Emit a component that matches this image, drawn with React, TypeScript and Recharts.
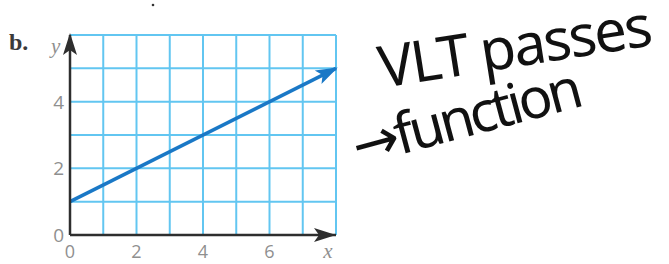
import { LineChart, Line, XAxis, YAxis, CartesianGrid, ReferenceDot } from 'recharts';

// grid / axis ticks
const xTicks = [0, 1, 2, 3, 4, 5, 6, 7, 8];
const yTicks = [0, 1, 2, 3, 4, 5, 6];
const xLabels = [0, 2, 4, 6];
const yLabels = [0, 2, 4];

// the plotted line y = 0.5x + 1
const lineX = [0, 8];
const lineY = [1, 5];

const data = lineX.map((x, i) => ({ x, y: lineY[i] }));

const GRID = '#62c6f1';
const LINE = '#1a78c6';
const AXIS = '#2e2e2e';
const LABEL = '#8f8f8f';

const XTick = ({ x, y, payload }: any) => {
  if (payload.value === 8) {
    return (
      <text x={x - 8} y={y + 23} textAnchor="middle" fontFamily="'Liberation Serif', serif" fontStyle="italic" fontSize={21} fill={LABEL}>
        x
      </text>
    );
  }
  if (!xLabels.includes(payload.value)) return <g />;
  return (
    <text x={x} y={y + 23} textAnchor="middle" fontFamily="'Open Sans', sans-serif" fontSize={18} fill={LABEL}>
      {payload.value}
    </text>
  );
};

const YTick = ({ x, y, payload }: any) => {
  if (!yLabels.includes(payload.value)) return <g />;
  return (
    <text x={x - 6} y={y + 7} textAnchor="end" fontFamily="'Open Sans', sans-serif" fontSize={19} fill={LABEL}>
      {payload.value}
    </text>
  );
};

// arrowhead drawn at the last point of the line
const ArrowDot = (props: any) => {
  const { cx, cy, index, points } = props;
  if (index !== lineX.length - 1) return <g key={`d${index}`} />;
  let ang = -26.6;
  if (points && points[index - 1]) {
    const prev = points[index - 1];
    ang = (Math.atan2(cy - prev.y, cx - prev.x) * 180) / Math.PI;
  }
  return (
    <path
      key={`d${index}`}
      d="M2,0 L-20,-7.5 L-15,0 L-20,7.5 Z"
      transform={`translate(${cx},${cy}) rotate(${ang})`}
      fill={LINE}
    />
  );
};

const XArrow = ({ cx, cy }: any) => (
  <path d={`M${cx},${cy} L${cx - 22},${cy - 7} L${cx - 17},${cy} L${cx - 22},${cy + 7} Z`} fill={AXIS} />
);

const YArrow = ({ cx, cy }: any) => (
  <path d={`M${cx},${cy - 2} L${cx - 7},${cy + 20} L${cx},${cy + 15} L${cx + 7},${cy + 20} Z`} fill={AXIS} />
);

export default function App() {
  return (
    <div style={{ position: 'absolute', left: 0, top: 0, width: 669, height: 264, background: '#fff' }}>
      <LineChart width={669} height={264} data={data} margin={{ top: 35, right: 333, bottom: 0, left: 40 }}>
        <CartesianGrid stroke={GRID} strokeWidth={2} horizontalValues={yTicks} verticalValues={xTicks} />
        <XAxis
          type="number"
          dataKey="x"
          domain={[0, 8]}
          ticks={xTicks}
          interval={0}
          height={29}
          tickSize={0}
          tickMargin={0}
          tickLine={false}
          axisLine={{ stroke: AXIS, strokeWidth: 2.5 }}
          tick={<XTick />}
        />
        <YAxis
          type="number"
          domain={[0, 6]}
          ticks={yTicks}
          interval={0}
          width={30}
          tickSize={0}
          tickMargin={0}
          tickLine={false}
          axisLine={{ stroke: AXIS, strokeWidth: 2.5 }}
          tick={<YTick />}
        />
        <ReferenceDot x={8} y={0} r={0} shape={<XArrow />} />
        <ReferenceDot x={0} y={6} r={0} shape={<YArrow />} />
        <Line
          type="linear"
          dataKey="y"
          stroke={LINE}
          strokeWidth={3.5}
          dot={<ArrowDot />}
          activeDot={false}
          isAnimationActive={false}
        />
      </LineChart>
      <svg width={669} height={264} style={{ position: 'absolute', left: 0, top: 0, pointerEvents: 'none' }}>
        <circle cx={153} cy={5} r={1.3} fill="#333" />
        <text x={9} y={50} fontSize={24} fontWeight="bold" fontFamily="'Liberation Serif', serif" fill="#3a3a3a">b.</text>
        <text x={51} y={53} fontSize={21} fontStyle="italic" fontFamily="'Liberation Serif', serif" fill={LABEL}>y</text>
        <text
          x={382}
          y={88}
          fontSize={58}
          fontFamily="'Noto Sans', sans-serif"
          fill="#111"
          textLength={276}
          lengthAdjust="spacing"
          transform="rotate(-9 382 88)"
        >
          VLT passes
        </text>
        <text
          x={358}
          y={166}
          fontSize={56}
          fontFamily="'Noto Sans', 'DejaVu Sans', sans-serif"
          fill="#111"
          textLength={236}
          lengthAdjust="spacing"
          transform="rotate(-15 358 166)"
        >
          →function
        </text>
      </svg>
    </div>
  );
}
